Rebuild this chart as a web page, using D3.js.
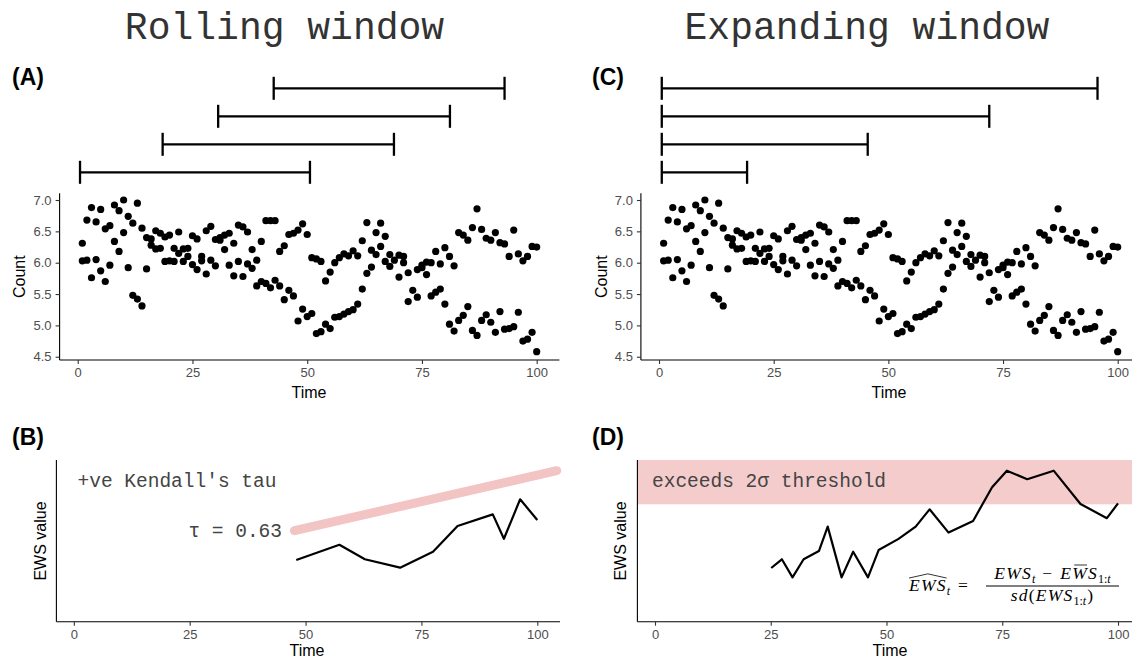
<!DOCTYPE html>
<html><head><meta charset="utf-8">
<script src="https://cdn.jsdelivr.net/npm/d3@7"></script>
<style>body{margin:0;background:#fff}</style>
</head><body><svg id="c" width="1132" height="660"></svg>
<script>
// ---------- data ----------
const timeSteps = d3.range(1, 101);
const countA = [6.31,6.68,6.88,6.65,6.85,6.54,6.59,6.92,6.83,7.00,
  6.74,6.63,6.95,6.55,6.40,6.38,6.51,6.47,6.41,6.44,
  6.23,6.49,6.22,6.23,6.43,6.38,6.10,6.51,6.58,6.37,
  6.40,6.44,6.47,6.31,6.60,6.57,6.49,6.21,6.04,6.34,
  6.67,6.67,6.67,6.18,6.27,6.45,6.47,6.52,6.62,6.45,
  6.08,6.06,6.02,5.71,5.85,6.00,6.08,6.14,6.11,6.19,
  6.11,6.35,6.64,6.20,6.48,6.63,6.42,6.13,6.04,6.12,
  6.10,5.84,null,5.89,5.92,6.01,6.00,6.18,5.98,6.24,
  6.10,5.95,6.48,6.44,6.36,6.56,6.86,6.53,6.39,6.36,
  6.48,6.32,6.30,6.10,6.52,6.14,6.03,6.10,6.26,6.25];
const countB = [6.03,6.04,5.76,6.05,5.87,5.70,5.96,6.34,6.18,6.48,
  5.92,5.48,5.42,5.31,5.90,6.28,6.22,6.23,6.02,6.03,
  6.02,6.15,6.02,6.10,5.97,5.89,6.03,5.82,6.04,5.95,
  6.36,6.21,5.96,5.79,6.02,5.78,5.98,5.91,5.63,5.70,
  5.67,5.60,5.72,5.63,5.41,5.56,5.47,5.07,5.26,5.14,
  5.19,4.87,4.90,5.02,4.95,5.13,5.14,5.18,5.22,5.25,
  5.34,5.58,5.83,5.93,6.13,6.26,6.02,5.94,null,5.77,
  6.00,5.38,5.56,5.45,5.96,5.81,5.47,5.53,5.58,5.34,
  5.02,4.91,5.08,5.16,5.30,4.92,4.84,5.08,5.17,5.05,
  4.89,5.22,4.94,4.95,4.98,5.21,4.75,4.78,4.89,4.58];
const rollStart = [0.5, 18.5, 30.6, 42.7];
const rollEnd   = [50.6, 68.9, 81.1, 93.0];
const expStart  = [0.6, 0.6, 0.6, 0.6];
const expEnd    = [19.2, 45.5, 72.0, 95.6];
const xTicks = [0, 25, 50, 75, 100];
const yTicks = [4.5, 5.0, 5.5, 6.0, 6.5, 7.0];
const ewsRollTime  = [48, 57.3, 62.8, 70.4, 77.5, 82.8, 90.4, 92.8, 96.3, 100];
const ewsRollValue = [3.82, 4.76, 3.86, 3.34, 4.33, 5.92, 6.64, 5.13, 7.57, 6.29];
const trendTime  = [47.6, 104.2];
const trendValue = [5.63, 9.34];
const ewsExpTime  = [25.1,27.4,29.7,32.1,35.4,37.3,40.3,42.8,46.0,48.3,52.6,56.3,59.3,63.4,68.7,72.8,76.0,80.4,86.1,91.9,97.6,100.0];
const ewsExpValue = [3.32,3.86,2.74,3.86,4.37,5.88,2.74,4.33,2.74,4.43,5.12,5.88,6.95,5.51,6.23,8.32,9.34,8.81,9.34,7.28,6.40,7.32];
const threshold = [7.26, 10];
const titles = ["Rolling window", "Expanding window"];
const panelTags = ["(A)", "(B)", "(C)", "(D)"];
const tauLabel = "τ = 0.63";

// ---------- drawing ----------
const svg = d3.select("#c");
const sans = "'Liberation Sans', Arial, Helvetica, sans-serif";
const mono = "'Liberation Mono', 'Courier New', monospace";
const serif = "'Liberation Serif', 'Times New Roman', serif";

svg.append("text").attr("x", 284.5).attr("y", 39).attr("text-anchor", "middle")
  .attr("font-family", mono).attr("font-size", 38).attr("fill", "#333").text(titles[0]);
svg.append("text").attr("x", 867).attr("y", 39).attr("text-anchor", "middle")
  .attr("font-family", mono).attr("font-size", 38).attr("fill", "#333").text(titles[1]);

[[12, 85, 0], [12, 445, 1], [592, 85, 2], [592, 445, 3]].forEach(([x, y, i]) => {
  svg.append("text").attr("x", x).attr("y", y).attr("font-family", sans)
    .attr("font-weight", "bold").attr("font-size", 23).attr("fill", "#000").text(panelTags[i]);
});

function styleAxis(g) {
  g.select(".domain").remove();
  g.selectAll(".tick line").attr("stroke", "#333").attr("stroke-width", 1.1);
  g.selectAll(".tick text").attr("fill", "#4d4d4d").attr("font-size", 13).attr("font-family", sans);
}

function frame(x, yTop, yBot) {
  const [x0, x1] = x.range();
  svg.append("line").attr("x1", x0).attr("x2", x0).attr("y1", yTop).attr("y2", yBot)
    .attr("stroke", "#000").attr("stroke-width", 1.1);
  svg.append("line").attr("x1", x0).attr("x2", x1).attr("y1", yBot).attr("y2", yBot)
    .attr("stroke", "#000").attr("stroke-width", 1.1);
  const gx = svg.append("g").attr("transform", `translate(0,${yBot})`)
    .call(d3.axisBottom(x).tickValues(xTicks).tickSize(4).tickPadding(4));
  styleAxis(gx);
}

function topPanel(xRange, starts, ends, countX, timeX) {
  const x = d3.scaleLinear().domain([-3.95, 104.95]).range(xRange);
  const y = d3.scaleLinear().domain([4.448, 7.107]).range([360, 193.3]);
  const pts = [];
  timeSteps.forEach((t, i) => {
    if (countA[i] != null) pts.push([t, countA[i]]);
    if (countB[i] != null) pts.push([t, countB[i]]);
  });
  svg.append("g").selectAll("circle").data(pts).join("circle")
    .attr("cx", d => x(d[0])).attr("cy", d => y(d[1])).attr("r", 3.6).attr("fill", "#000");
  frame(x, 193.3, 360);
  const gy = svg.append("g").attr("transform", `translate(${xRange[0]},0)`)
    .call(d3.axisLeft(y).tickValues(yTicks).tickFormat(d3.format(".1f")).tickSize(4).tickPadding(4));
  styleAxis(gy);
  svg.append("text").attr("x", timeX).attr("y", 398).attr("text-anchor", "middle")
    .attr("font-family", sans).attr("font-size", 16).text("Time");
  svg.append("text").attr("transform", `translate(${countX},276.7) rotate(-90)`)
    .attr("text-anchor", "middle").attr("font-family", sans).attr("font-size", 16).text("Count");
  // windows
  const row = d3.scalePoint().domain([0, 1, 2, 3]).range([172.3, 88.3]);
  const wg = svg.append("g").attr("stroke", "#000").attr("stroke-width", 2.3);
  starts.forEach((s, i) => {
    const yy = row(i);
    wg.append("line").attr("x1", x(s)).attr("x2", x(ends[i])).attr("y1", yy).attr("y2", yy);
    [s, ends[i]].forEach(v => wg.append("line").attr("x1", x(v)).attr("x2", x(v))
      .attr("y1", yy - 11.5).attr("y2", yy + 11.5));
  });
}

topPanel([59.6, 559.4], rollStart, rollEnd, 25, 309);
topPanel([640.9, 1140.4], expStart, expEnd, 606.5, 889);

function bottomPanel(xDomain, xRange, labelX, timeX) {
  const x = d3.scaleLinear().domain(xDomain).range(xRange);
  const y = d3.scaleLinear().domain([0, 10]).range([621.7, 460]);
  return {x, y, finish: () => {
    frame(x, 460, 621.7);
    svg.append("text").attr("x", timeX).attr("y", 656).attr("text-anchor", "middle")
      .attr("font-family", sans).attr("font-size", 16).text("Time");
    svg.append("text").attr("transform", `translate(${labelX},541) rotate(-90)`)
      .attr("text-anchor", "middle").attr("font-family", sans).attr("font-size", 16).text("EWS value");
  }};
}

// Panel B
const B = bottomPanel([-3.76, 104.9], [56.4, 560], 45.5, 307);
svg.append("path").datum(trendTime.map((t, i) => [t, trendValue[i]]))
  .attr("d", d3.line().x(d => B.x(d[0])).y(d => B.y(d[1])))
  .attr("stroke", "#f2c4c4").attr("stroke-width", 9).attr("stroke-linecap", "round").attr("fill", "none");
svg.append("path").datum(ewsRollTime.map((t, i) => [t, ewsRollValue[i]]))
  .attr("d", d3.line().x(d => B.x(d[0])).y(d => B.y(d[1])))
  .attr("stroke", "#000").attr("stroke-width", 2.2).attr("stroke-linejoin", "round").attr("fill", "none");
svg.append("text").attr("x", 77.5).attr("y", 487).attr("font-family", mono).attr("font-size", 19.5)
  .attr("fill", "#444").text("+ve Kendall's tau");
svg.append("text").attr("x", 282).attr("y", 537).attr("text-anchor", "end").attr("font-family", mono)
  .attr("font-size", 19.5).attr("fill", "#444").text(tauLabel);
B.finish();

// Panel D
const D = bottomPanel([-3.8, 104.9], [637.4, 1140.7], 626, 890);
svg.append("rect").attr("x", D.x.range()[0]).attr("width", D.x.range()[1] - D.x.range()[0])
  .attr("y", D.y(threshold[1])).attr("height", D.y(threshold[0]) - D.y(threshold[1]))
  .attr("fill", "#f4cccc");
svg.append("text").attr("x", 652).attr("y", 487).attr("font-family", mono).attr("font-size", 19.5)
  .attr("fill", "#444").text("exceeds 2σ threshold");
svg.append("path").datum(ewsExpTime.map((t, i) => [t, ewsExpValue[i]]))
  .attr("d", d3.line().x(d => D.x(d[0])).y(d => D.y(d[1])))
  .attr("stroke", "#000").attr("stroke-width", 2.2).attr("stroke-linejoin", "round").attr("fill", "none");
D.finish();

// formula
const FS = 17.5, SFS = 12;
function mathRow(parts) {
  const g = svg.append("g");
  let cx = 0;
  parts.forEach(p => {
    cx += p.pre || 0;
    const t = g.append("text").attr("x", cx).attr("y", p.sub ? 4 : 0)
      .attr("font-family", serif).attr("font-size", p.sub ? SFS : FS)
      .attr("font-style", p.up ? "normal" : "italic")
      .attr("letter-spacing", p.sub ? 0 : 1.2).text(p.t);
    const w = t.node().getComputedTextLength();
    if (p.hat) g.append("path")
      .attr("d", `M${cx},${-FS * 0.74} L${cx + w / 2},${-FS * 0.98} L${cx + w},${-FS * 0.74}`)
      .attr("fill", "none").attr("stroke", "#000").attr("stroke-width", 0.8);
    if (p.bar) g.append("line").attr("x1", cx + 2).attr("x2", cx + w - 1)
      .attr("y1", -FS * 0.8).attr("y2", -FS * 0.8).attr("stroke", "#000").attr("stroke-width", 0.8);
    cx += w + (p.post || 0);
  });
  return {g, width: cx};
}
const lhs = mathRow([{t: "EWS", hat: true}, {t: "t", sub: true}, {t: "=", up: true, pre: 8}]);
lhs.g.attr("transform", "translate(909,591)");
const num = mathRow([{t: "EWS"}, {t: "t", sub: true}, {t: "−", up: true, pre: 7, post: 7},
  {t: "E"}, {t: "W", bar: true}, {t: "S"}, {t: "1:", sub: true, up: true}, {t: "t", sub: true}]);
num.g.attr("transform", `translate(${1052.5 - num.width / 2},579)`);
const den = mathRow([{t: "sd"}, {t: "(", up: true}, {t: "EWS"}, {t: "1:", sub: true, up: true},
  {t: "t", sub: true}, {t: ")", up: true, pre: 1}]);
den.g.attr("transform", `translate(${1052.5 - den.width / 2},601)`);
svg.append("line").attr("x1", 986).attr("x2", 1119).attr("y1", 586).attr("y2", 586)
  .attr("stroke", "#000").attr("stroke-width", 1);
</script></body></html>
